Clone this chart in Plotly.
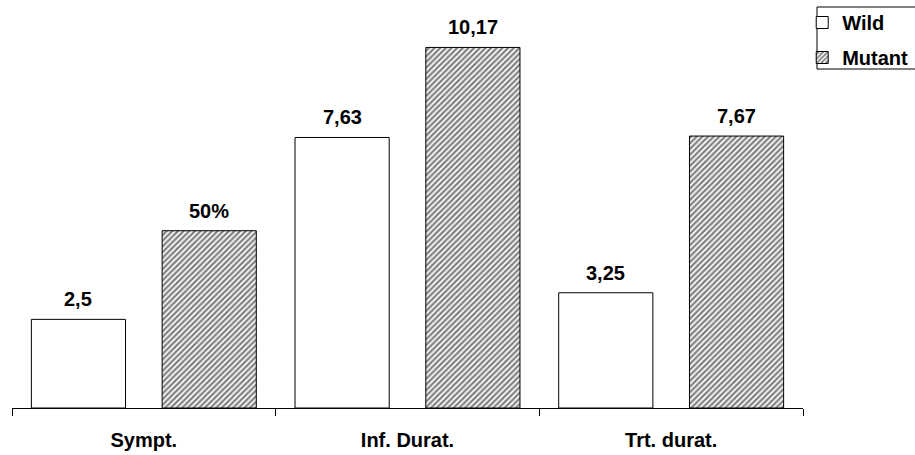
import plotly.graph_objects as go

categories = ["Sympt.", "Inf. Durat.", "Trt. durat."]
wild_values = [2.5, 7.63, 3.25]
mutant_values = [5.0, 10.17, 7.67]
wild_labels = ["2,5", "7,63", "3,25"]
mutant_labels = ["50%", "10,17", "7,67"]
series_names = ["Wild", "Mutant"]

FONT = "Liberation Sans, Arial, sans-serif"
bargap = 0.008
bargroupgap = 0.28

fig = go.Figure()
fig.add_trace(go.Bar(
    x=categories, y=wild_values, name=series_names[0], legendgroup="a",
    marker=dict(color="white", line=dict(color="black", width=1)),
))
fig.add_trace(go.Bar(
    x=categories, y=mutant_values, name=series_names[1], legendgroup="b",
    marker=dict(color="white", line=dict(color="black", width=1),
                pattern=dict(shape="/", fgcolor="black", bgcolor="white",
                             size=4, solidity=0.55)),
))

off = (1 - bargap) / 4
annotations = []
for i in range(len(categories)):
    for sgn, vals, labs in ((-1, wild_values, wild_labels), (1, mutant_values, mutant_labels)):
        annotations.append(dict(
            x=i + sgn * off, y=vals[i], xref="x", yref="y",
            text="<b>%s</b>" % labs[i], showarrow=False,
            yanchor="bottom", xanchor="center", yshift=7,
            font=dict(family=FONT, size=20, color="black"),
        ))

fig.update_layout(
    width=915, height=455,
    margin=dict(l=12, r=112, t=18, b=47, autoexpand=False),
    paper_bgcolor="white", plot_bgcolor="white",
    barmode="group", bargap=bargap, bargroupgap=bargroupgap,
    font=dict(family=FONT, size=20, color="black"),
    showlegend=True,
    legend=dict(x=0.999, y=(408 - 3) / 390, xanchor="left", yanchor="top",
                font=dict(family=FONT, size=20, color="black", weight="bold"),
                bgcolor="rgba(0,0,0,0)", borderwidth=0, tracegroupgap=6),
    annotations=annotations,
    shapes=[dict(type="rect", xref="paper", yref="paper",
                 x0=(817 - 12) / 791, x1=1.2, y0=(408 - 69) / 390, y1=(408 - 7) / 390,
                 line=dict(color="black", width=1), fillcolor="rgba(0,0,0,0)")],
)
fig.update_xaxes(
    range=[-0.5, 2.5], showline=True, linecolor="black", linewidth=1,
    ticks="outside", tickson="boundaries", ticklen=7, tickcolor="black",
    tickfont=dict(family=FONT, size=20, color="black", weight="bold"),
    showgrid=False, zeroline=False, ticklabelstandoff=14,
)
fig.update_yaxes(range=[0, 11], visible=False, showgrid=False, zeroline=False)

fig.write_html("out.html")
